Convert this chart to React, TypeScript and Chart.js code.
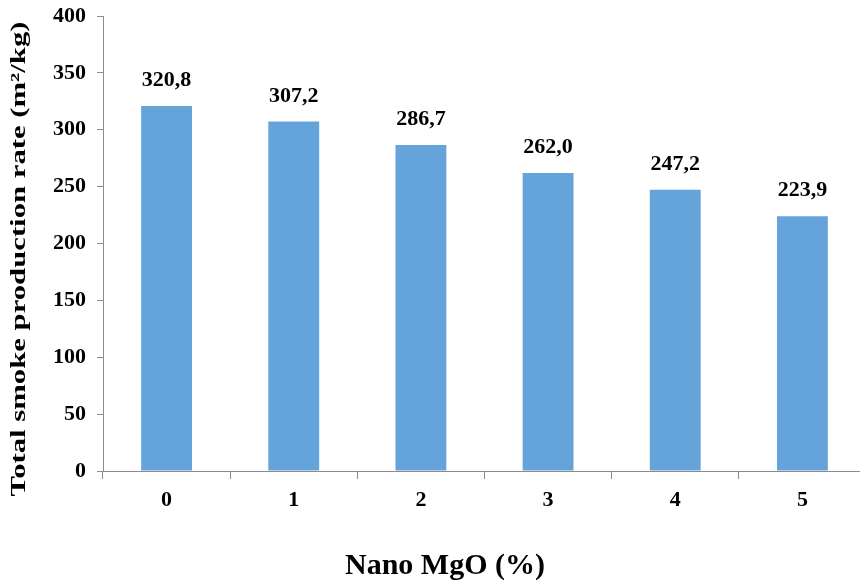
import React, { useEffect, useRef } from "react";
import { Chart, registerables } from "chart.js";

Chart.register(...registerables);

const categories: string[] = ["0", "1", "2", "3", "4", "5"];
const smokeRate: number[] = [320.8, 307.2, 286.7, 262.0, 247.2, 223.9];
const yTicks: number[] = [0, 50, 100, 150, 200, 250, 300, 350, 400];
const xTitle = "Nano MgO (%)";
const yTitle = "Total smoke production rate (m²/kg)";

const FONT = "'Liberation Serif', 'Times New Roman', serif";
const BAR_COLOR = "#65A3DB";
const AXIS_COLOR = "#8C8C8C";

const fmt = (v: number) => v.toFixed(1).replace(".", ",");

const labelsPlugin = {
  id: "barLabels",
  afterDatasetsDraw(chart: any) {
    const ctx = chart.ctx;
    const meta = chart.getDatasetMeta(0);
    ctx.save();
    ctx.fillStyle = "#000";
    ctx.font = `bold 22px ${FONT}`;
    ctx.textAlign = "center";
    ctx.textBaseline = "alphabetic";
    meta.data.forEach((bar: any, i: number) => {
      ctx.fillText(fmt(smokeRate[i]), bar.x, bar.y - 20);
    });
    ctx.restore();
  },
  afterDraw(chart: any) {
    const ctx = chart.ctx;
    ctx.save();
    ctx.fillStyle = "#000";
    ctx.textAlign = "center";
    ctx.textBaseline = "middle";
    ctx.font = `bold 30px ${FONT}`;
    ctx.fillText(xTitle, 445, 566);

    // vertical axis title, stretched along its length to span the axis
    ctx.font = `bold 22px ${FONT}`;
    const w = ctx.measureText(yTitle).width;
    const span = 475;
    ctx.translate(19, 259);
    ctx.rotate(-Math.PI / 2);
    ctx.scale(span / w, 1);
    ctx.fillText(yTitle, 0, 0);
    ctx.restore();
  },
};

export default function App() {
  const ref = useRef<HTMLCanvasElement>(null);

  useEffect(() => {
    if (!ref.current) return;
    const chart = new Chart(ref.current, {
      type: "bar",
      data: {
        labels: categories,
        datasets: [
          {
            data: smokeRate,
            backgroundColor: BAR_COLOR,
            borderWidth: 0,
            barPercentage: 0.4,
            categoryPercentage: 1,
          },
        ],
      },
      options: {
        animation: false,
        responsive: false,
        maintainAspectRatio: false,
        layout: { padding: { top: 16, right: 4, left: 0, bottom: 0 } },
        plugins: {
          legend: { display: false },
          tooltip: { enabled: false },
        },
        scales: {
          x: {
            grid: {
              display: true,
              drawOnChartArea: false,
              drawTicks: true,
              tickLength: 8,
              color: AXIS_COLOR,
              offset: true,
            },
            border: { display: true, color: AXIS_COLOR, width: 1 },
            ticks: {
              color: "#000",
              font: { family: FONT, size: 22, weight: "bold" },
              padding: 8,
            },
            afterFit: (s: any) => {
              s.height = 585 - 471;
            },
          },
          y: {
            min: 0,
            max: 400,
            afterBuildTicks: (s: any) => {
              s.ticks = yTicks.map((v) => ({ value: v }));
            },
            grid: {
              display: true,
              drawOnChartArea: false,
              drawTicks: true,
              tickLength: 6,
              color: AXIS_COLOR,
            },
            border: { display: true, color: AXIS_COLOR, width: 1 },
            ticks: {
              color: "#000",
              font: { family: FONT, size: 22, weight: "bold", lineHeight: 0.5 },
              padding: 11,
            },
            afterFit: (s: any) => {
              s.width = 103;
              s.paddingTop = 0;
              s.paddingBottom = 0;
            },
          },
        },
      },
      plugins: [labelsPlugin],
    });
    return () => chart.destroy();
  }, []);

  return (
    <div
      style={{
        position: "fixed",
        left: 0,
        top: 0,
        width: 860,
        height: 585,
        overflow: "hidden",
        background: "#fff",
      }}
    >
      <canvas ref={ref} width={870} height={585} style={{ display: "block" }} />
    </div>
  );
}
